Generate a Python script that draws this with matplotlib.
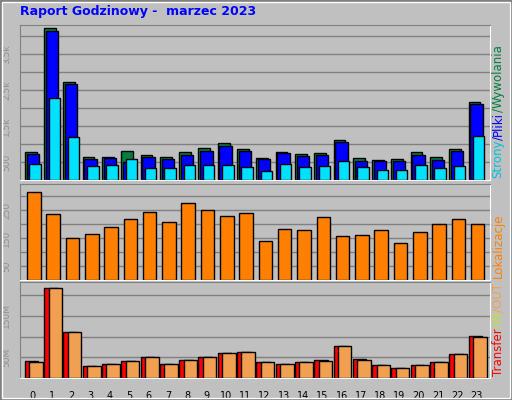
import matplotlib
matplotlib.use('Agg')
import matplotlib.pyplot as plt
from matplotlib.patches import Rectangle

hours = list(range(24))
hits = [787, 4213, 2713, 639, 639, 796, 685, 639, 769, 880, 1019, 852,
        602, 769, 713, 741, 1102, 602, 546, 574, 769, 639, 852, 2157]
files = [713, 4130, 2657, 574, 602, 491, 630, 574, 685, 796, 935, 796,
         574, 741, 657, 685, 1046, 519, 519, 519, 685, 546, 796, 2102]
pages = [435, 2269, 1185, 380, 407, 574, 324, 324, 407, 407, 407, 352,
         241, 435, 352, 380, 519, 352, 269, 269, 407, 324, 380, 1213]
sites = [314, 236, 150, 164, 189, 218, 243, 207, 275, 250, 229, 239,
         139, 182, 179, 225, 157, 161, 179, 132, 171, 200, 218, 200]
transfer = [41.9, 218.5, 112, 29.8, 34.7, 41.9, 51.6, 34.7, 44.4, 51.6, 61.3, 63.7,
            39.5, 34.7, 39.5, 44.4, 78.2, 46.8, 32.3, 25, 32.3, 39.5, 58.9, 102.4]
traffic_out = [39.5, 218.5, 112, 29.8, 34.7, 41.9, 51.6, 34.7, 44.4, 51.6, 61.3, 63.7,
               39.5, 34.7, 39.5, 41.9, 78.2, 44.4, 32.3, 25, 32.3, 39.5, 58.9, 100]

W, H = 512, 400
BG = '#c0c0c0'
GRID = '#808080'
fig = plt.figure(figsize=(W / 100, H / 100), dpi=100)
fig.patch.set_facecolor(BG)

# 3D frame around the picture
fig.add_artist(Rectangle((0, 0), 1, 1, transform=fig.transFigure, fill=False,
                         edgecolor='#808080', linewidth=3))
fig.add_artist(Rectangle((2 / W, 2 / H), 1 - 4 / W, 1 - 4 / H, transform=fig.transFigure,
                         fill=False, edgecolor='white', linewidth=1))

fig.text(20 / W, 1 - 12 / H, 'Raport Godzinowy -  marzec 2023', color='#0000ff',
         fontsize=9, fontweight='bold', va='center', ha='left', family='DejaVu Sans')


def make_axes(top_px, bottom_px):
    ax = fig.add_axes([20 / W, 1 - bottom_px / H, 470 / W, (bottom_px - top_px) / H])
    ax.set_facecolor(BG)
    ax.set_xlim(-0.67, 23.69)
    for side in ['left', 'top']:
        ax.spines[side].set_color('#808080')
    for side in ['right', 'bottom']:
        ax.spines[side].set_color('white')
    ax.tick_params(left=False, bottom=False, labelbottom=False)
    ax.set_axisbelow(True)
    return ax


def left_labels(ax, ticks, labels):
    ax.set_yticks(ticks)
    ax.set_yticklabels(labels, rotation=90, color='#909090', fontsize=6.5, va='center')
    ax.tick_params(axis='y', pad=3)


def right_label(ax, parts, fontsize=8.5):
    fig.canvas.draw()
    r = fig.canvas.get_renderer()
    bb = ax.get_window_extent()
    x = 498
    y = bb.y0 + 2
    for txt, col in parts:
        t = fig.text(x / W, y / H, txt, color=col, rotation=90, fontsize=fontsize,
                     ha='center', va='bottom')
        y += t.get_window_extent(r).height


def gridlines(ax, step, top):
    v = step
    while v < top:
        ax.axhline(v, color=GRID, linewidth=1, zorder=0)
        v += step


# top: hits / files / pages
ax1 = make_axes(25, 180)
ax1.set_ylim(0, 4305)
gridlines(ax1, 500, 4305)
for h in hours:
    ax1.bar(h - 0.42, hits[h], width=0.61, align='edge', color='#008040', edgecolor='black', lw=1)
    ax1.bar(h - 0.33, files[h], width=0.64, align='edge', color='#0000ff', edgecolor='black', lw=1)
    ax1.bar(h - 0.19, pages[h], width=0.59, align='edge', color='#00e0ff', edgecolor='black', lw=1)
left_labels(ax1, [500, 1500, 2500, 3500], ['500', '1,5k', '2,5k', '3,5k'])

# middle: sites
ax2 = make_axes(184, 280)
ax2.set_ylim(0, 333 * (280 - 184) / (277.3 - 184))
gridlines(ax2, 50, 340)
ax2.bar([h - 0.3 for h in hours], sites, width=0.7, align='edge', color='#ff8000',
        edgecolor='black', lw=1)
left_labels(ax2, [50, 150, 250], ['50', '150', '250'])

# bottom: transfer
ax3 = make_axes(282, 378)
ax3.set_ylim(0, 229 * (378 - 282) / (376.7 - 282))
gridlines(ax3, 50, 235)
ax3.bar([h - 0.42 for h in hours], transfer, width=0.7, align='edge', color='#ff0000',
        edgecolor='black', lw=1)
ax3.bar([h - 0.19 for h in hours], traffic_out, width=0.7, align='edge', color='#f0a050',
        edgecolor='black', lw=1)
left_labels(ax3, [50, 150], ['50M', '150M'])
ax3.tick_params(labelbottom=True)
ax3.set_xticks(hours)
ax3.set_xticklabels([str(h) for h in hours], fontsize=7, color='black')
ax3.tick_params(axis='x', pad=6)

right_label(ax1, [('Strony', '#00c0e0'), ('/', '#0000ff'), ('Pliki', '#0000ff'),
                  ('/', '#008040'), ('Wywolania', '#008040')])
right_label(ax2, [('Lokalizacje', '#ff8000')])
right_label(ax3, [('Transfer', '#ff0000'), ('/IN', '#c0e040'), ('/OUT', '#f0a050')])

fig.savefig('out.png', dpi=100, facecolor=BG)
